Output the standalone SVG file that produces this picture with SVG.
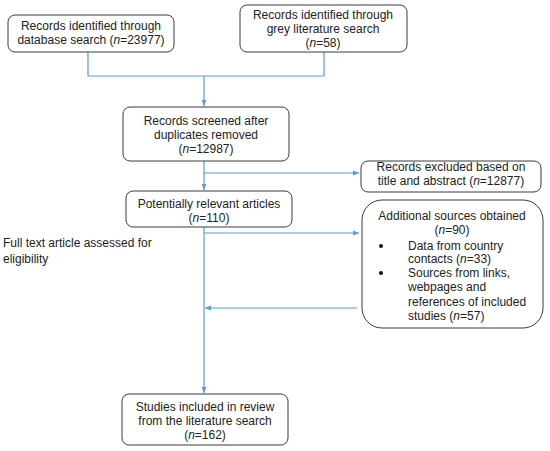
<svg xmlns="http://www.w3.org/2000/svg" width="550" height="451" viewBox="0 0 550 451">
<style>
.box{fill:#fff;stroke:#3a3a3a;stroke-width:1}
.t{font-family:"Liberation Sans",Arial,sans-serif;font-size:12px;fill:#222}
.c{text-anchor:middle}
.ln{fill:none;stroke:#5b9bd5;stroke-width:1.2}
</style>
<defs>
<marker id="ah" viewBox="0 0 10 10" refX="10" refY="5" markerWidth="6" markerHeight="6" orient="auto" markerUnits="userSpaceOnUse">
<path d="M0,1 L10,5 L0,9 z" fill="#5b9bd5"/>
</marker>
</defs>
<rect width="550" height="451" fill="#fff"/>
<g id="connectors">
<polyline class="ln" points="88,52 88,76 324,76 324,52"/>
<line class="ln" x1="204" y1="76" x2="204" y2="106" marker-end="url(#ah)"/>
<line class="ln" x1="204" y1="161" x2="204" y2="190" marker-end="url(#ah)"/>
<line class="ln" x1="204" y1="173" x2="359" y2="173" marker-end="url(#ah)"/>
<line class="ln" x1="204" y1="227" x2="204" y2="393" marker-end="url(#ah)"/>
<line class="ln" x1="204" y1="233" x2="359" y2="233" marker-end="url(#ah)"/>
<line class="ln" x1="357" y1="308" x2="205" y2="308" marker-end="url(#ah)"/>
</g>
<g id="db">
<rect class="box" x="8" y="15" width="166" height="37" rx="7"/>
<text class="t c" x="91" y="30">Records identified through</text>
<text class="t c" x="91" y="44">database search (<tspan font-style="italic">n</tspan>=23977)</text>
</g>
<g id="grey">
<rect class="box" x="240" y="5" width="167" height="47" rx="7"/>
<text class="t c" x="323" y="19">Records identified through</text>
<text class="t c" x="323" y="33">grey literature search</text>
<text class="t c" x="323" y="47">(<tspan font-style="italic">n</tspan>=58)</text>
</g>
<g id="screened">
<rect class="box" x="123" y="107" width="166" height="54" rx="7"/>
<text class="t c" x="206" y="125">Records screened after</text>
<text class="t c" x="206" y="139">duplicates removed</text>
<text class="t c" x="206" y="153">(<tspan font-style="italic">n</tspan>=12987)</text>
</g>
<g id="excluded">
<rect class="box" x="361" y="161" width="180" height="31" rx="7"/>
<text class="t c" x="451" y="171">Records excluded based on</text>
<text class="t c" x="451" y="185">title and abstract (<tspan font-style="italic">n</tspan>=12877)</text>
</g>
<g id="relevant">
<rect class="box" x="126" y="191" width="166" height="36" rx="7"/>
<text class="t c" x="209" y="208">Potentially relevant articles</text>
<text class="t c" x="209" y="222">(<tspan font-style="italic">n</tspan>=110)</text>
</g>
<g id="fulltext">
<text class="t" x="3" y="247">Full text article assessed for</text>
<text class="t" x="3" y="263">eligibility</text>
</g>
<g id="additional">
<rect class="box" x="362" y="200" width="181" height="128" rx="20"/>
<text class="t c" x="452" y="220">Additional sources obtained</text>
<text class="t c" x="452" y="234">(<tspan font-style="italic">n</tspan>=90)</text>
<circle cx="381" cy="246" r="2" fill="#111"/>
<text class="t" x="408" y="250">Data from country</text>
<text class="t" x="408" y="263">contacts (<tspan font-style="italic">n</tspan>=33)</text>
<circle cx="381" cy="273" r="2" fill="#111"/>
<text class="t" x="408" y="277">Sources from links,</text>
<text class="t" x="408" y="291">webpages and</text>
<text class="t" x="408" y="306">references of included</text>
<text class="t" x="408" y="320">studies (<tspan font-style="italic">n</tspan>=57)</text>
</g>
<g id="included">
<rect class="box" x="122" y="394" width="166" height="51" rx="7"/>
<text class="t c" x="205" y="411">Studies included in review</text>
<text class="t c" x="205" y="425">from the literature search</text>
<text class="t c" x="205" y="439">(<tspan font-style="italic">n</tspan>=162)</text>
</g>
</svg>
